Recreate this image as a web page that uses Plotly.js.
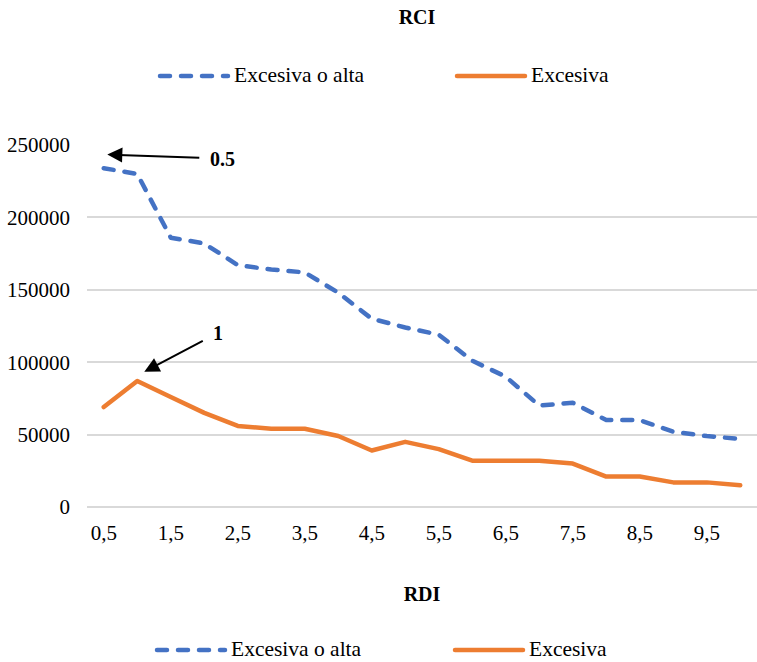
<!DOCTYPE html>
<html>
<head>
<meta charset="utf-8">
<script src="https://cdn.plot.ly/plotly-3.0.1.min.js"></script>
<style>
  html, body { margin: 0; padding: 0; background: #fff; }
  #chart { width: 757px; height: 662px; }
  /* rounded dash ends and joins, like office-style line charts */
  .scatterlayer .js-line, .shapelayer path { stroke-linecap: round; stroke-linejoin: round; }
</style>
</head>
<body>
<div id="chart"></div>
<script>
// RDI categories (x axis)
const rdiCategories = ["0,5","1","1,5","2","2,5","3","3,5","4","4,5","5",
                       "5,5","6","6,5","7","7,5","8","8,5","9","9,5","10"];
// RCI values per series
const excesivaOAlta = [234000, 230000, 186000, 182000, 167000, 164000, 162000, 148000, 130000, 124000,
                       119000, 101000, 90000, 70000, 72000, 60000, 60000, 52000, 49000, 47000];
const excesiva = [69000, 87000, 76000, 65000, 56000, 54000, 54000, 49000, 39000, 45000,
                  40000, 32000, 32000, 32000, 30000, 21000, 21000, 17000, 17000, 15000];
// labelled x ticks
const xTickLabels = ["0,5","1,5","2,5","3,5","4,5","5,5","6,5","7,5","8,5","9,5"];
const yTickValues = [0, 50000, 100000, 150000, 200000, 250000];
const seriesNames = ["Excesiva o alta", "Excesiva"];
const seriesColors = ["#4472C4", "#ED7D31"];
const calloutLabels = ["0.5", "1"];

const W = 757, H = 662;
const M = { l: 87, r: 0, t: 145, b: 155 };
const plotW = W - M.l - M.r, plotH = H - M.t - M.b;
const FONT = "Liberation Serif, Times New Roman, serif";
const BLUE_DASH = "10px,11px";
const TICK_FONT = { family: FONT, size: 21, color: "#000" };

// pixel -> paper helpers for chrome placed around the plot
const px2paperX = px => (px - M.l) / plotW;
const px2paperY = py => (H - M.b - py) / plotH;

const traces = [
  {
    type: "scatter", mode: "lines", name: seriesNames[0],
    x: rdiCategories, y: excesivaOAlta, showlegend: false, hoverinfo: "x+y",
    line: { color: seriesColors[0], width: 4.5, dash: BLUE_DASH }
  },
  {
    type: "scatter", mode: "lines", name: seriesNames[1],
    x: rdiCategories, y: excesiva, showlegend: false, hoverinfo: "x+y",
    line: { color: seriesColors[1], width: 4.5 }
  }
];

// legend rows (top and bottom), drawn as line samples + labels
function legendRow(yPx, blueX0, orangeX0) {
  const shapes = [], notes = [];
  const items = [
    { x0: blueX0, name: seriesNames[0], color: seriesColors[0], dash: BLUE_DASH },
    { x0: orangeX0, name: seriesNames[1], color: seriesColors[1], dash: "solid" }
  ];
  items.forEach(it => {
    shapes.push({
      type: "line", xref: "paper", yref: "paper",
      x0: px2paperX(it.x0 + 2), x1: px2paperX(it.x0 + 70),
      y0: px2paperY(yPx), y1: px2paperY(yPx),
      line: { color: it.color, width: 4.5, dash: it.dash }
    });
    notes.push({
      xref: "paper", yref: "paper", x: px2paperX(it.x0 + 74), y: px2paperY(yPx - 1),
      xanchor: "left", yanchor: "middle", showarrow: false, text: it.name,
      font: { family: FONT, size: 21.5, color: "#000" }
    });
  });
  return { shapes, notes };
}
const topLegend = legendRow(76, 158, 455);
const bottomLegend = legendRow(650, 155, 453);

// callouts with arrows
const callouts = [
  { text: calloutLabels[0], x: 0.106, y: 243400, ax: 115, ay: 4 },
  { text: calloutLabels[1], x: 1.21, y: 93400, ax: 74, ay: -39 }
].map(c => ({
  xref: "x", yref: "y", x: c.x, y: c.y, ax: c.ax, ay: c.ay, axref: "pixel", ayref: "pixel",
  text: "<b>" + c.text + "</b>", showarrow: true, arrowhead: 2, arrowsize: 1.5,
  arrowwidth: 2, arrowcolor: "#000", borderpad: 10, standoff: 0,
  font: { family: FONT, size: 20, color: "#000" }
}));

const layout = {
  width: W, height: H,
  margin: M,
  paper_bgcolor: "#fff", plot_bgcolor: "#fff",
  font: { family: FONT, size: 20, color: "#000" },
  showlegend: false,
  title: {
    text: "<b>RCI</b>", xref: "container", yref: "container",
    x: 417 / W, xanchor: "center", y: 1 - 17 / H, yanchor: "middle",
    font: { family: FONT, size: 20, color: "#000" }
  },
  xaxis: {
    type: "category", range: [-0.5, 19.5],
    tickmode: "array", tickvals: xTickLabels, ticktext: xTickLabels,
    showgrid: false, zeroline: false, showline: false, ticks: "",
    ticklabelstandoff: 11,
    tickfont: TICK_FONT,
    title: { text: "<b>RDI</b>", standoff: 42, font: { family: FONT, size: 20, color: "#000" } }
  },
  yaxis: {
    range: [0, 250000], tickmode: "array", tickvals: yTickValues, tickformat: "d",
    showgrid: true, gridcolor: "#d9d9d9", gridwidth: 2,
    zeroline: true, zerolinecolor: "#d9d9d9", zerolinewidth: 2,
    showline: false, ticks: "", ticklabelstandoff: 16,
    tickfont: TICK_FONT
  },
  shapes: topLegend.shapes.concat(bottomLegend.shapes),
  annotations: topLegend.notes.concat(bottomLegend.notes, callouts)
};

Plotly.newPlot("chart", traces, layout, { displayModeBar: false, staticPlot: true });
</script>
</body>
</html>
